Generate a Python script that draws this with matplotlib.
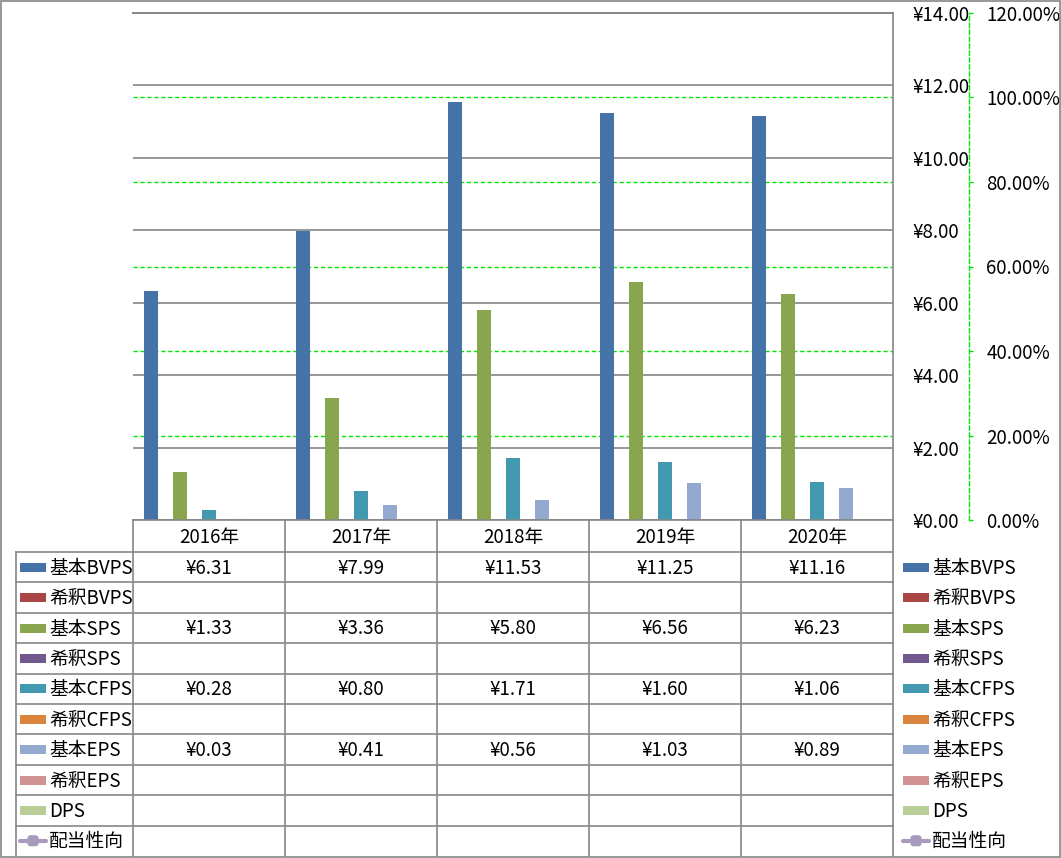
import matplotlib
matplotlib.use("Agg")
import matplotlib.pyplot as plt
from matplotlib.ticker import FuncFormatter, MultipleLocator
from matplotlib.patches import Rectangle, FancyBboxPatch

plt.rcParams['font.family'] = ['Noto Sans CJK JP', 'DejaVu Sans']

# ---------------- data ----------------
years = ['2016年', '2017年', '2018年', '2019年', '2020年']
series_names = ['基本BVPS', '希釈BVPS', '基本SPS', '希釈SPS', '基本CFPS',
                '希釈CFPS', '基本EPS', '希釈EPS', 'DPS', '配当性向']
basic_bvps = [6.31, 7.99, 11.53, 11.25, 11.16]
diluted_bvps = [None, None, None, None, None]
basic_sps = [1.33, 3.36, 5.80, 6.56, 6.23]
diluted_sps = [None, None, None, None, None]
basic_cfps = [0.28, 0.80, 1.71, 1.60, 1.06]
diluted_cfps = [None, None, None, None, None]
basic_eps = [0.03, 0.41, 0.56, 1.03, 0.89]
diluted_eps = [None, None, None, None, None]
dps = [None, None, None, None, None]
payout_ratio = [None, None, None, None, None]
series_colors = ['#4572A7', '#AA4643', '#89A54E', '#71588F', '#4198AF',
                 '#DB843D', '#93A9CF', '#D19392', '#B9CD96', '#A99BBD']

bar_series = [basic_bvps, diluted_bvps, basic_sps, diluted_sps, basic_cfps,
              diluted_cfps, basic_eps, diluted_eps, dps]
all_series = bar_series + [payout_ratio]

# ---------------- layout ----------------
W, H = 1061, 858
fig = plt.figure(figsize=(W / 100, H / 100), dpi=100)
fig.patch.set_facecolor('white')

px_left, px_right, px_top, px_bottom = 133, 893, 13, 520
ax = fig.add_axes([px_left / W, 1 - px_bottom / H,
                   (px_right - px_left) / W, (px_bottom - px_top) / H])
ax2 = ax.twinx()
ax2.set_zorder(0)
ax.set_zorder(1)
ax.patch.set_visible(False)

grid_gray = '#868686'
green = '#00E600'
fs = 13.5

n = len(bar_series)
gap = 1.5
w = 1.0 / (n + gap)
for j, vals in enumerate(bar_series):
    xs, hs = [], []
    for i, v in enumerate(vals):
        if v is not None:
            xs.append(i + (j - (n - 1) / 2) * w)
            hs.append(v)
    if xs:
        ax.bar(xs, hs, width=w, color=series_colors[j], zorder=3, linewidth=0)

ax.set_xlim(-0.5, len(years) - 0.5)
ax.set_ylim(0, 14)
ax.yaxis.set_major_locator(MultipleLocator(2))
ax.yaxis.set_major_formatter(FuncFormatter(lambda v, p: f'¥{v:.2f}'))
ax.yaxis.tick_right()
ax.yaxis.set_label_position('right')
ax.tick_params(axis='y', length=0, pad=14, labelsize=fs, labelcolor='black')
ax.set_xticks([])
ax.grid(axis='y', color=grid_gray, linewidth=1.2, zorder=0)
ax.axhline(14, color=grid_gray, linewidth=1.2, clip_on=False, zorder=1)
ax.set_axisbelow(True)
for s in ['left', 'top', 'bottom']:
    ax.spines[s].set_visible(False)
ax.spines['right'].set_color(grid_gray)
ax.spines['right'].set_linewidth(1.2)

ax2.set_ylim(0, 1.2)
ax2.yaxis.set_major_locator(MultipleLocator(0.2))
ax2.yaxis.set_major_formatter(FuncFormatter(lambda v, p: f'{v * 100:.2f}%'))
ax2.spines['right'].set_position(('outward', 76 * 0.72))
ax2.spines['right'].set_color(green)
ax2.spines['right'].set_linestyle((0, (3, 2)))
ax2.spines['right'].set_linewidth(1)
for s in ['left', 'top', 'bottom']:
    ax2.spines[s].set_visible(False)
ax2.tick_params(axis='y', length=3, width=1, color=green, pad=9.5,
                labelsize=fs, labelcolor='black', direction='out')
for t in ax2.get_yticks():
    if 0 < t < 1.19:
        ax2.axhline(t, color=green, linewidth=1, linestyle=(0, (3, 2)))
ax2.set_xticks([])

# ---------------- data table (overlay in pixel coords) ----------------
ov = fig.add_axes([0, 0, 1, 1], zorder=5)
ov.set_xlim(0, W)
ov.set_ylim(H, 0)
ov.axis('off')
ov.patch.set_visible(False)

col_x = [px_left + k * (px_right - px_left) / len(years) for k in range(len(years) + 1)]
head_top, head_bot, tab_bot = 520, 552, 856
nrows = len(series_names)
rh = (tab_bot - head_bot) / nrows
row_y = [head_bot + k * rh for k in range(nrows + 1)]
left_x = 16

lc = dict(color=grid_gray, linewidth=1.2)
ov.plot([px_left, px_right], [px_top, px_top], **lc)
ov.plot([px_left, px_right], [head_top, head_top], **lc)
for y in row_y[:-1]:
    ov.plot([left_x, px_right], [y, y], **lc)
for x in col_x:
    ov.plot([x, x], [head_top, tab_bot], **lc)
ov.plot([left_x, left_x], [head_bot, tab_bot], **lc)

for i, yr in enumerate(years):
    ov.text((col_x[i] + col_x[i + 1]) / 2, (head_top + head_bot) / 2 + 1, yr,
            ha='center', va='center', fontsize=fs)

for r, (name, vals, col) in enumerate(zip(series_names, all_series, series_colors)):
    yc = (row_y[r] + row_y[r + 1]) / 2
    for i, v in enumerate(vals):
        if v is not None:
            ov.text((col_x[i] + col_x[i + 1]) / 2, yc + 1, f'¥{v:.2f}',
                    ha='center', va='center', fontsize=fs)
    for (mx, tx) in [(20, 49), (903, 932)]:
        if name == '配当性向':
            ov.plot([mx, mx + 26], [yc, yc], color=col, linewidth=3,
                    solid_capstyle='round')
            ov.add_patch(FancyBboxPatch((mx + 8, yc - 5), 10, 10,
                                        boxstyle='round,pad=0,rounding_size=2.5',
                                        facecolor=col, edgecolor=col, linewidth=0.8))
        else:
            ov.add_patch(Rectangle((mx, yc - 4.5), 26, 9, facecolor=col, edgecolor='none'))
        ov.text(tx, yc + 1, name, ha='left', va='center', fontsize=fs)

# outer border
ov.add_patch(Rectangle((0.5, 0.5), W - 1.5, H - 1.5, facecolor='none',
                       edgecolor=grid_gray, linewidth=1.2))

fig.savefig('out.png', dpi=100, facecolor='white')
